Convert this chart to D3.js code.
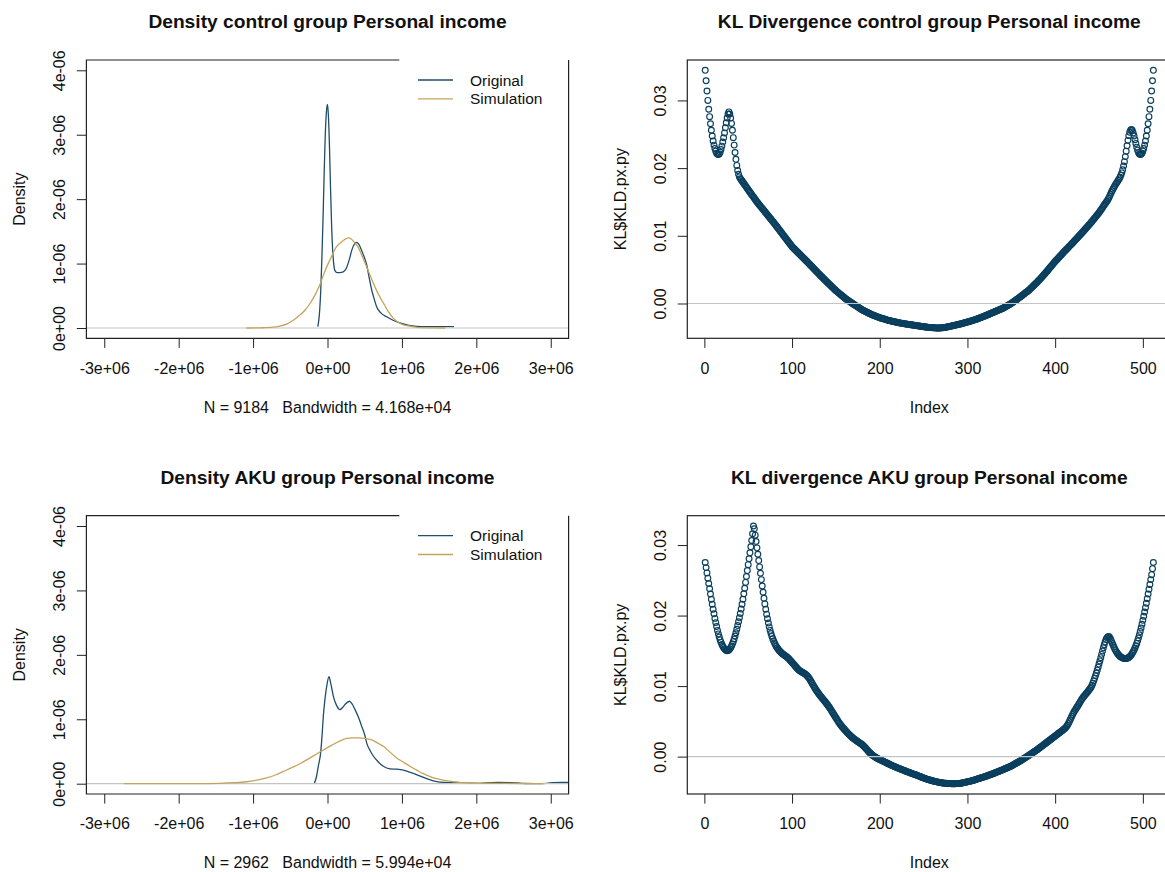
<!DOCTYPE html>
<html>
<head>
<meta charset="utf-8">
<script src="https://cdn.jsdelivr.net/npm/d3@7"></script>
<style>
  html, body { margin: 0; padding: 0; background: #ffffff; }
  svg { display: block; font-family: "Liberation Sans", Arial, Helvetica, sans-serif; }
  .pre { white-space: pre; }
</style>
</head>
<body>
<svg id="chart" width="1165" height="872"></svg>
<script>
// ---------------------------------------------------------------------------
// Data
// ---------------------------------------------------------------------------

// Kernel density estimates of personal income: [income in millions, density in 1e-6]
const controlOriginal = [
  [-0.13,0.02],[-0.11,0.2],[-0.09,0.6],[-0.075,1.1],[-0.06,1.7],[-0.045,2.4],[-0.03,3.0],
  [-0.015,3.35],[0.0,3.47],[0.012,3.3],[0.027,2.8],[0.04,2.2],[0.055,1.6],[0.07,1.2],
  [0.085,0.98],[0.10,0.89],[0.13,0.86],[0.17,0.86],[0.21,0.87],[0.25,0.92],[0.29,1.05],
  [0.33,1.22],[0.36,1.30],[0.39,1.33],[0.42,1.30],[0.46,1.2],[0.5,1.08],[0.527,0.98],
  [0.56,0.78],[0.594,0.59],[0.63,0.44],[0.66,0.33],[0.72,0.23],[0.80,0.17],[0.88,0.12],
  [0.97,0.08],[1.05,0.055],[1.12,0.035],[1.2,0.025],[1.3,0.02],[1.5,0.02],[1.7,0.02]
];
const controlSimulation = [
  [-1.09,0],[-0.9,0.003],[-0.73,0.012],[-0.64,0.03],[-0.55,0.06],[-0.46,0.12],[-0.37,0.2],
  [-0.30,0.28],[-0.235,0.38],[-0.16,0.53],[-0.10,0.68],[-0.04,0.87],[0.034,1.06],[0.12,1.26],
  [0.19,1.34],[0.24,1.38],[0.28,1.40],[0.32,1.38],[0.36,1.33],[0.41,1.26],[0.46,1.13],
  [0.50,1.02],[0.55,0.88],[0.615,0.70],[0.66,0.58],[0.705,0.48],[0.75,0.39],[0.82,0.25],
  [0.885,0.15],[0.95,0.09],[1.02,0.05],[1.11,0.03],[1.24,0.005],[1.4,0.002],[1.58,0]
];
const akuOriginal = [
  [-0.18,0],[-0.15,0.1],[-0.124,0.27],[-0.09,0.5],[-0.07,0.8],[-0.056,1.05],[-0.035,1.3],
  [-0.011,1.51],[0.02,1.66],[0.045,1.55],[0.078,1.36],[0.12,1.22],[0.168,1.15],[0.2,1.18],
  [0.235,1.23],[0.293,1.28],[0.33,1.24],[0.37,1.15],[0.42,1.02],[0.46,0.89],[0.5,0.76],
  [0.527,0.63],[0.57,0.52],[0.616,0.43],[0.68,0.34],[0.75,0.27],[0.84,0.23],[0.93,0.225],
  [1.02,0.21],[1.09,0.185],[1.153,0.16],[1.24,0.12],[1.333,0.077],[1.42,0.045],[1.51,0.025],
  [1.69,0.015],[1.87,0.01],[2.05,0.006],[2.18,0.015],[2.3,0.02],[2.45,0.018],[2.54,0.012],
  [2.65,0.003],[2.8,0.001],[2.95,0.005],[3.03,0.017],[3.15,0.02],[3.3,0.018],[3.4,0.01]
];
const akuSimulation = [
  [-2.735,0],[-2.2,0.001],[-1.8,0.002],[-1.445,0.006],[-1.25,0.015],[-1.086,0.03],[-0.95,0.055],
  [-0.817,0.09],[-0.7,0.135],[-0.594,0.19],[-0.48,0.25],[-0.37,0.31],[-0.25,0.39],[-0.12,0.48],
  [0.0,0.56],[0.124,0.64],[0.2,0.68],[0.258,0.705],[0.33,0.712],[0.42,0.712],[0.5,0.705],
  [0.56,0.69],[0.616,0.67],[0.69,0.62],[0.75,0.58],[0.84,0.49],[0.93,0.40],[1.02,0.335],
  [1.109,0.27],[1.2,0.21],[1.288,0.155],[1.38,0.11],[1.468,0.077],[1.58,0.05],[1.69,0.03],
  [1.8,0.018],[1.915,0.01],[2.1,0.007],[2.27,0.005],[2.6,0.002],[2.9,0]
];

// KL divergence per grid index 1..512, in units of 1e-5
const klControl = [
  3445,3290,3140,3000,2870,2760,2655,2560,2475,2400,
  2340,2290,2250,2220,2205,2200,2210,2235,2275,2325,
  2385,2450,2520,2595,2670,2740,2800,2830,2800,2740,
  2660,2560,2450,2340,2230,2130,2040,1965,1910,1870,
  1845,1828,1810,1791,1772,1754,1735,1717,1698,1680,
  1662,1644,1626,1608,1590,1572,1554,1536,1518,1500,
  1484,1468,1452,1436,1420,1404,1388,1372,1356,1340,
  1324,1308,1292,1276,1260,1244,1228,1212,1196,1180,
  1163,1146,1129,1112,1095,1078,1061,1044,1027,1010,
  993,976,959,942,925,908,891,874,857,840,
  827,814,801,788,775,762,749,736,723,710,
  697,684,671,658,645,632,619,606,593,580,
  566,553,539,526,512,499,485,472,458,445,
  432,419,406,393,380,367,354,341,328,315,
  302,290,277,265,252,240,227,215,202,190,
  179,168,157,146,135,124,113,102,91,80,
  71,62,53,44,35,26,17,8,-1,-10,
  -18,-27,-35,-44,-52,-61,-69,-78,-86,-95,
  -101,-108,-114,-121,-127,-134,-140,-147,-153,-160,
  -165,-170,-175,-180,-185,-190,-195,-200,-205,-210,
  -214,-218,-222,-226,-230,-234,-238,-242,-246,-250,
  -253,-256,-259,-262,-265,-268,-271,-274,-277,-280,
  -283,-285,-288,-290,-293,-295,-297,-299,-301,-303,
  -305,-307,-309,-311,-313,-315,-317,-319,-321,-323,
  -325,-327,-329,-331,-333,-335,-337,-339,-341,-343,
  -345,-347,-348,-350,-351,-353,-354,-355,-356,-357,
  -358,-359,-360,-361,-362,-362,-362,-362,-361,-360,
  -359,-357,-355,-353,-351,-349,-347,-344,-341,-338,
  -335,-332,-329,-326,-323,-320,-317,-314,-311,-308,
  -305,-302,-298,-295,-291,-288,-284,-281,-277,-274,
  -270,-266,-262,-258,-254,-250,-246,-242,-238,-234,
  -229,-224,-219,-214,-209,-204,-199,-194,-189,-184,
  -178,-173,-167,-162,-156,-151,-145,-140,-134,-129,
  -123,-118,-112,-107,-101,-96,-90,-85,-79,-74,
  -67,-60,-52,-45,-37,-30,-22,-15,-7,0,
  10,19,29,38,48,57,67,76,86,95,
  105,115,125,135,145,155,165,175,185,195,
  208,220,233,245,258,270,283,295,308,320,
  335,349,364,378,393,407,422,436,451,465,
  481,496,512,527,543,558,574,589,605,620,
  634,648,662,676,690,704,718,732,746,760,
  774,787,801,814,828,841,855,868,882,895,
  909,923,937,951,965,979,993,1007,1021,1035,
  1050,1064,1079,1093,1108,1122,1137,1151,1166,1180,
  1196,1212,1228,1244,1260,1276,1292,1308,1324,1340,
  1359,1378,1397,1416,1435,1454,1473,1492,1511,1530,
  1555,1582,1610,1640,1665,1690,1715,1740,1760,1780,
  1800,1820,1840,1865,1895,1930,1975,2030,2095,2170,
  2250,2330,2410,2480,2530,2560,2570,2555,2520,2475,
  2420,2365,2310,2265,2230,2210,2200,2205,2220,2250,
  2290,2340,2400,2475,2560,2655,2760,2870,3000,3140,
  3290,3445
];
const klAku = [
  2753,2680,2605,2530,2455,2380,2305,2230,2160,2090,
  2025,1960,1900,1845,1790,1740,1695,1655,1620,1590,
  1565,1545,1528,1515,1506,1502,1505,1513,1527,1545,
  1568,1596,1630,1668,1710,1756,1806,1858,1912,1968,
  2028,2092,2160,2232,2308,2388,2470,2554,2638,2722,
  2806,2890,2975,3065,3160,3270,3230,3140,3050,2960,
  2870,2780,2690,2600,2510,2420,2330,2245,2165,2090,
  2020,1955,1895,1840,1790,1745,1705,1670,1638,1610,
  1585,1563,1543,1525,1509,1494,1482,1470,1460,1450,
  1441,1432,1423,1413,1402,1390,1377,1364,1350,1336,
  1322,1308,1293,1278,1264,1250,1237,1226,1216,1207,
  1199,1192,1185,1178,1170,1160,1148,1134,1118,1100,
  1080,1058,1036,1014,993,972,952,933,915,898,
  881,865,849,834,819,804,789,774,758,742,
  725,707,689,670,650,630,610,590,570,550,
  530,511,492,474,457,440,424,409,394,380,
  366,352,339,326,314,302,290,279,268,258,
  248,238,229,220,211,203,195,187,178,168,
  157,145,132,118,104,90,76,63,50,38,
  27,17,8,0,-8,-15,-22,-29,-36,-42,
  -48,-54,-60,-66,-72,-78,-84,-90,-96,-102,
  -108,-114,-120,-126,-131,-137,-142,-148,-153,-158,
  -163,-168,-173,-178,-183,-188,-193,-198,-203,-208,
  -213,-218,-222,-227,-232,-236,-241,-245,-250,-254,
  -258,-263,-268,-273,-278,-283,-288,-293,-298,-303,
  -307,-312,-316,-320,-324,-328,-332,-336,-340,-343,
  -346,-349,-352,-355,-358,-361,-364,-366,-368,-370,
  -372,-374,-376,-377,-378,-379,-380,-381,-382,-383,
  -383,-384,-384,-384,-384,-384,-383,-383,-382,-381,
  -380,-378,-376,-374,-372,-369,-366,-363,-360,-357,
  -354,-351,-348,-345,-342,-339,-335,-331,-327,-323,
  -319,-315,-311,-307,-303,-299,-295,-291,-287,-283,
  -279,-274,-270,-265,-261,-256,-252,-247,-243,-238,
  -233,-228,-223,-218,-213,-208,-203,-198,-193,-188,
  -183,-177,-172,-166,-161,-155,-150,-144,-139,-133,
  -126,-119,-112,-105,-98,-91,-84,-77,-70,-63,
  -55,-47,-39,-31,-23,-15,-7,1,9,17,
  25,34,42,51,59,68,76,85,93,102,
  111,121,130,140,149,159,168,178,187,197,
  206,216,225,235,244,254,263,273,282,292,
  301,311,320,330,339,349,358,368,377,387,
  398,411,426,445,467,492,518,545,572,598,
  622,643,663,683,703,723,744,765,786,806,
  824,841,857,872,887,902,917,933,950,967,
  985,1012,1042,1075,1110,1147,1186,1226,1268,1312,
  1357,1403,1450,1497,1543,1587,1627,1660,1684,1698,
  1702,1692,1670,1642,1612,1582,1553,1527,1503,1482,
  1463,1447,1433,1421,1411,1404,1398,1394,1392,1391,
  1392,1395,1400,1407,1417,1430,1446,1465,1487,1512,
  1540,1571,1605,1642,1682,1726,1773,1823,1876,1932,
  1990,2050,2112,2175,2240,2306,2373,2441,2510,2580,
  2665,2753
];

// Axis ticks and labels
const densityXTicks = [-3, -2, -1, 0, 1, 2, 3];               // millions
const densityXTickLabels = ["-3e+06", "-2e+06", "-1e+06", "0e+00", "1e+06", "2e+06", "3e+06"];
const densityYTicks = [0, 1, 2, 3, 4];                          // 1e-6
const densityYTickLabels = ["0e+00", "1e-06", "2e-06", "3e-06", "4e-06"];
const klXTicks = [0, 100, 200, 300, 400, 500];
const klYTicks = [0, 0.01, 0.02, 0.03];
const klYTickLabels = ["0.00", "0.01", "0.02", "0.03"];
const legendLabels = ["Original", "Simulation"];

// ---------------------------------------------------------------------------
// Styling and layout
// ---------------------------------------------------------------------------
const COL_ORIG = "#1f4d6b";
const COL_SIM = "#c5a45a";
const COL_DOT = "#0b3f5e";
const COL_ZERO = "#c4c4c4";
const COL_AXIS = "#222222";
const FONT = 16;

const rows = [{ y0: 60, y1: 338.3 }, { y0: 515.7, y1: 794 }];
const leftCol = { x0: 86.4, x1: 568.6 };
const rightCol = { x0: 687.3, x1: 1171.3 };

const svg = d3.select("#chart");

function styleAxis(g) {
  g.select(".domain").remove();
  g.selectAll(".tick line").attr("stroke", COL_AXIS).attr("stroke-width", 1);
  g.selectAll(".tick text")
    .attr("fill", "#111")
    .style("font-size", FONT + "px")
    .style("font-family", "'Liberation Sans', Arial, sans-serif");
}

function drawAxes(box, x, y, xTicks, xLabels, yTicks, yLabels) {
  const gx = svg.append("g").attr("transform", `translate(0,${box.y1})`)
    .call(d3.axisBottom(x).tickValues(xTicks)
      .tickFormat((d, i) => xLabels ? xLabels[i] : d)
      .tickSizeInner(9.6).tickSizeOuter(0).tickPadding(14.3));
  styleAxis(gx);

  const gy = svg.append("g").attr("transform", `translate(${box.x0},0)`)
    .call(d3.axisLeft(y).tickValues(yTicks)
      .tickFormat((d, i) => yLabels[i])
      .tickSizeInner(9.6).tickSizeOuter(0));
  styleAxis(gy);
  gy.selectAll(".tick text")
    .attr("x", 0).attr("dy", 0)
    .attr("text-anchor", "middle")
    .attr("transform", "translate(-21.4,0) rotate(-90)");
}

function drawTitle(box, text, baseline) {
  svg.append("text")
    .attr("x", (box.x0 + box.x1) / 2).attr("y", baseline)
    .attr("text-anchor", "middle")
    .style("font-size", "19.2px").style("font-weight", "bold")
    .attr("fill", "#111").text(text);
}

function drawYLabel(box, text) {
  const cy = (box.y0 + box.y1) / 2;
  svg.append("text")
    .attr("transform", `translate(${box.x0 - 61.3},${cy}) rotate(-90)`)
    .attr("text-anchor", "middle")
    .style("font-size", FONT + "px").attr("fill", "#111").text(text);
}

function drawXLabel(box, text, baseline) {
  svg.append("text").attr("class", "pre")
    .attr("x", (box.x0 + box.x1) / 2).attr("y", baseline)
    .attr("text-anchor", "middle")
    .style("font-size", FONT + "px").attr("fill", "#111").text(text);
}

// ---------------------------------------------------------------------------
// Density panel: original vs simulated income distribution
// ---------------------------------------------------------------------------
function densityPanel(idx, rowIdx, title, subtitle, orig, sim) {
  const r = rows[rowIdx];
  const box = { x0: leftCol.x0, x1: leftCol.x1, y0: r.y0, y1: r.y1 };
  const x = d3.scaleLinear().domain([-3.24, 3.24]).range([box.x0, box.x1]);
  const y = d3.scaleLinear().domain([-0.16, 4.16]).range([box.y1, box.y0]);

  const clipId = "clip-density-" + idx;
  svg.append("clipPath").attr("id", clipId)
    .append("rect").attr("x", box.x0).attr("y", box.y0)
    .attr("width", box.x1 - box.x0).attr("height", box.y1 - box.y0);

  const line = d3.line().x(d => x(d[0])).y(d => y(d[1])).curve(d3.curveMonotoneX);
  const plot = svg.append("g").attr("clip-path", `url(#${clipId})`);

  plot.append("path").datum(orig).attr("d", line)
    .attr("fill", "none").attr("stroke", COL_ORIG).attr("stroke-width", 1.3);
  plot.append("line")
    .attr("x1", box.x0).attr("x2", box.x1).attr("y1", y(0)).attr("y2", y(0))
    .attr("stroke", COL_ZERO).attr("stroke-width", 1.2);
  plot.append("path").datum(sim).attr("d", line)
    .attr("fill", "none").attr("stroke", COL_SIM).attr("stroke-width", 1.3);

  // frame; the legend's white background hides the right part of the top edge
  const legendLeft = 399.3;
  svg.append("path")
    .attr("d", `M${legendLeft},${box.y0}H${box.x0}V${box.y1}H${box.x1}V${box.y0}`)
    .attr("fill", "none").attr("stroke", COL_AXIS).attr("stroke-width", 1.2);

  drawAxes(box, x, y, densityXTicks, densityXTickLabels, densityYTicks, densityYTickLabels);
  drawTitle(box, title, r.y0 - 32);
  drawYLabel(box, "Density");
  drawXLabel(box, subtitle, r.y1 + 74.4);

  // legend
  const legendColors = [COL_ORIG, COL_SIM];
  const lg = svg.append("g");
  legendLabels.forEach((lab, i) => {
    const ly = r.y0 + 20 + i * 18.8;
    lg.append("line").attr("x1", 418).attr("x2", 453).attr("y1", ly).attr("y2", ly)
      .attr("stroke", legendColors[i]).attr("stroke-width", 1.3);
    lg.append("text").attr("x", 470).attr("y", ly + 5.6)
      .style("font-size", "15.5px").attr("fill", "#111").text(lab);
  });
}

// ---------------------------------------------------------------------------
// KL divergence panel: one open circle per grid index
// ---------------------------------------------------------------------------
function klPanel(idx, rowIdx, title, values) {
  const r = rows[rowIdx];
  const box = { x0: rightCol.x0, x1: rightCol.x1, y0: r.y0, y1: r.y1 };
  const data = values.map((v, i) => ({ index: i + 1, kl: v * 1e-5 }));

  const xr = [1, data.length];
  const xpad = (xr[1] - xr[0]) * 0.04;
  const x = d3.scaleLinear().domain([xr[0] - xpad, xr[1] + xpad]).range([box.x0, box.x1]);
  const yr = d3.extent(data, d => d.kl);
  const ypad = (yr[1] - yr[0]) * 0.04;
  const y = d3.scaleLinear().domain([yr[0] - ypad, yr[1] + ypad]).range([box.y1, box.y0]);

  svg.append("g").selectAll("circle").data(data).join("circle")
    .attr("cx", d => x(d.index)).attr("cy", d => y(d.kl)).attr("r", 2.9)
    .attr("fill", "none").attr("stroke", COL_DOT).attr("stroke-width", 1.15);

  svg.append("line")
    .attr("x1", box.x0).attr("x2", box.x1).attr("y1", y(0)).attr("y2", y(0))
    .attr("stroke", COL_ZERO).attr("stroke-width", 1.2);

  svg.append("rect")
    .attr("x", box.x0).attr("y", box.y0)
    .attr("width", box.x1 - box.x0).attr("height", box.y1 - box.y0)
    .attr("fill", "none").attr("stroke", COL_AXIS).attr("stroke-width", 1.2);

  drawAxes(box, x, y, klXTicks, null, klYTicks, klYTickLabels);
  drawTitle({ x0: box.x0, x1: box.x1 }, title, r.y0 - 32);
  drawYLabel(box, "KL$KLD.px.py");
  drawXLabel(box, "Index", r.y1 + 74.4);
}

densityPanel(0, 0, "Density control group Personal income",
  "N = 9184   Bandwidth = 4.168e+04", controlOriginal, controlSimulation);
klPanel(0, 0, "KL Divergence control group Personal income", klControl);
densityPanel(1, 1, "Density AKU group Personal income",
  "N = 2962   Bandwidth = 5.994e+04", akuOriginal, akuSimulation);
klPanel(1, 1, "KL divergence AKU group Personal income", klAku);
</script>
</body>
</html>
